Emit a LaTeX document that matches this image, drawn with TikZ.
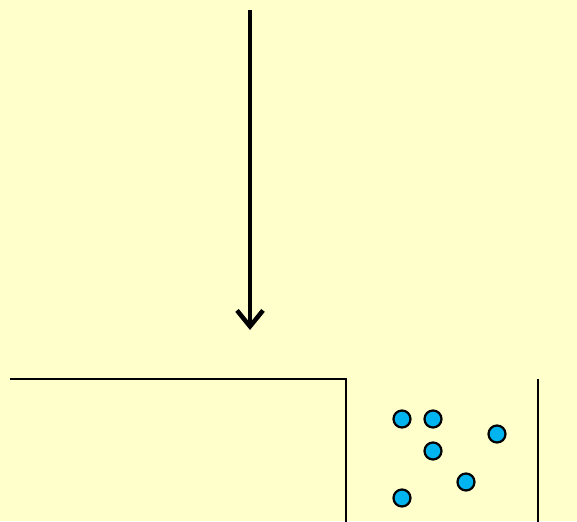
\documentclass[tikz,border=0pt]{standalone}
\usetikzlibrary{arrows.meta}
\definecolor{bg}{HTML}{FFFFCC}
\definecolor{ball}{HTML}{00B4F0}
\tikzset{
  wall/.style={line width=2.4pt, black},
  particle/.style={circle, draw=black, fill=ball, line width=2.2pt, minimum size=17pt, inner sep=0pt},
  bigarrow/.style={line width=4.5pt, -{Straight Barb[length=16pt, width=26pt, line width=4.5pt]}}
}
\begin{document}
\begin{tikzpicture}[x=1pt, y=-1pt]
\fill[bg] (0,0) rectangle (577,521);
\useasboundingbox (0,0) rectangle (577,521);
\coordinate (atop) at (250,10);
\coordinate (abot) at (250,330);
\draw[bigarrow] (atop) -- (abot);
\coordinate (w1) at (10,379);
\coordinate (w2) at (346,379);
\coordinate (w3) at (346,522);
\coordinate (w4) at (538,379);
\coordinate (w5) at (538,522);
\draw[wall] (w1) -- (w2) -- (w3);
\draw[wall] (w4) -- (w5);
\node[particle] (p1) at (402,419) {};
\node[particle] (p2) at (433,419) {};
\node[particle] (p3) at (433,451) {};
\node[particle] (p4) at (497,434) {};
\node[particle] (p5) at (466,482) {};
\node[particle] (p6) at (402,498) {};
\end{tikzpicture}
\end{document}
